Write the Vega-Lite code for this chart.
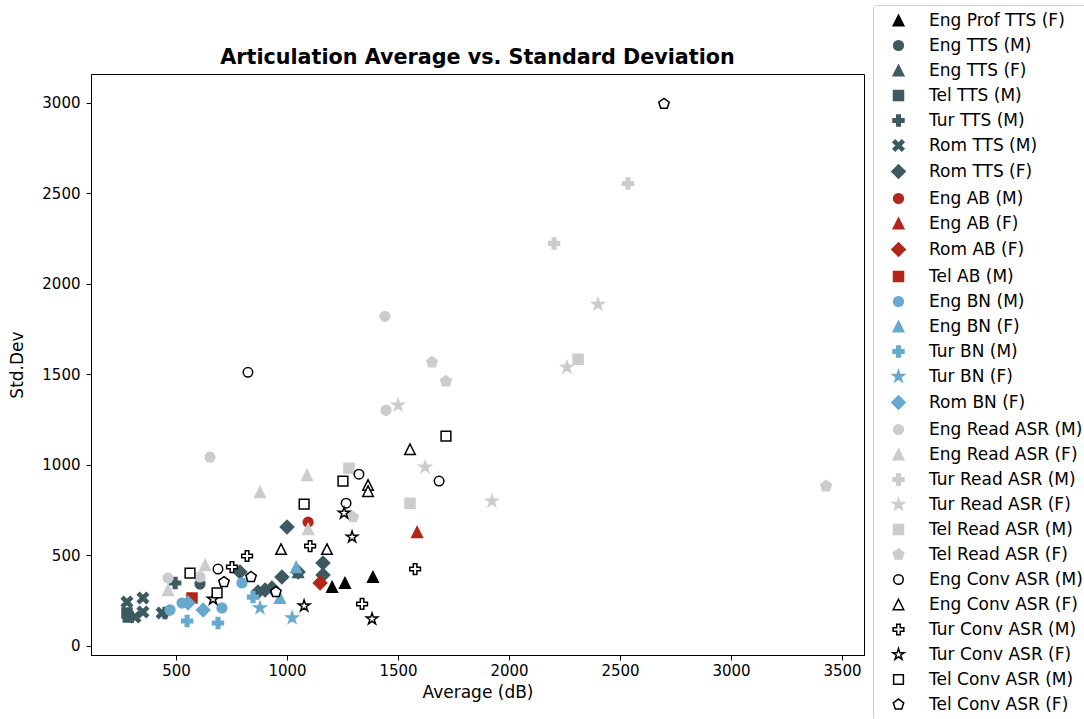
{
  "$schema": "https://vega.github.io/schema/vega-lite/v6.json",
  "width": 773,
  "height": 581,
  "autosize": {"type": "none"},
  "padding": {"left": 91, "top": 74, "right": 220, "bottom": 64},
  "background": "white",
  "title": {"text": "Articulation Average vs. Standard Deviation", "font": "DejaVu Sans", "fontSize": 20.7, "fontWeight": "bold", "color": "black", "anchor": "middle", "frame": "group", "offset": 9, "dy": 73},
  "config": {
    "font": "DejaVu Sans",
    "view": {"stroke": "black", "strokeWidth": 1},
    "axis": {"domainColor": "black", "tickColor": "black", "labelColor": "black", "titleColor": "black", "labelFont": "DejaVu Sans", "titleFont": "DejaVu Sans", "labelFontSize": 15, "titleFontSize": 17, "titleFontWeight": "normal", "grid": false, "tickSize": 5, "domainWidth": 1, "tickWidth": 1, "labelOverlap": false, "format": "d"},
    "legend": {"orient": "none", "legendX": 782, "legendY": -69, "labelFontSize": 17, "labelFont": "DejaVu Sans", "labelColor": "black", "strokeColor": "#cccccc", "fillColor": "white", "cornerRadius": 3, "padding": 7, "rowPadding": 7, "symbolOffset": 10, "labelOffset": 22, "labelLimit": 300, "symbolStrokeWidth": 1.5, "symbolLimit": 40}
  },
  "data": {"values": [
    {"series": "Eng Prof TTS (F)", "avg": 1203, "sd": 326},
    {"series": "Eng Prof TTS (F)", "avg": 1261, "sd": 348},
    {"series": "Eng Prof TTS (F)", "avg": 1387, "sd": 381},
    {"series": "Eng TTS (M)", "avg": 608, "sd": 342},
    {"series": "Eng TTS (F)", "avg": 1050, "sd": 408},
    {"series": "Tel TTS (M)", "avg": 279, "sd": 182},
    {"series": "Tel TTS (M)", "avg": 285, "sd": 160},
    {"series": "Tur TTS (M)", "avg": 496, "sd": 348},
    {"series": "Tur TTS (M)", "avg": 450, "sd": 182},
    {"series": "Rom TTS (M)", "avg": 279, "sd": 243},
    {"series": "Rom TTS (M)", "avg": 351, "sd": 265},
    {"series": "Rom TTS (M)", "avg": 351, "sd": 188},
    {"series": "Rom TTS (M)", "avg": 437, "sd": 182},
    {"series": "Rom TTS (M)", "avg": 315, "sd": 160},
    {"series": "Rom TTS (F)", "avg": 1000, "sd": 657},
    {"series": "Rom TTS (F)", "avg": 1162, "sd": 458},
    {"series": "Rom TTS (F)", "avg": 1050, "sd": 408},
    {"series": "Rom TTS (F)", "avg": 977, "sd": 381},
    {"series": "Rom TTS (F)", "avg": 1162, "sd": 392},
    {"series": "Rom TTS (F)", "avg": 901, "sd": 309},
    {"series": "Rom TTS (F)", "avg": 932, "sd": 320},
    {"series": "Rom TTS (F)", "avg": 869, "sd": 298},
    {"series": "Rom TTS (F)", "avg": 788, "sd": 408},
    {"series": "Eng AB (M)", "avg": 1095, "sd": 684},
    {"series": "Eng AB (F)", "avg": 1586, "sd": 629},
    {"series": "Rom AB (F)", "avg": 1149, "sd": 348},
    {"series": "Tel AB (M)", "avg": 572, "sd": 265},
    {"series": "Eng BN (M)", "avg": 473, "sd": 199},
    {"series": "Eng BN (M)", "avg": 527, "sd": 237},
    {"series": "Eng BN (M)", "avg": 707, "sd": 210},
    {"series": "Eng BN (M)", "avg": 797, "sd": 348},
    {"series": "Eng BN (F)", "avg": 968, "sd": 265},
    {"series": "Eng BN (F)", "avg": 1041, "sd": 436},
    {"series": "Tur BN (M)", "avg": 550, "sd": 138},
    {"series": "Tur BN (M)", "avg": 689, "sd": 127},
    {"series": "Tur BN (M)", "avg": 847, "sd": 270},
    {"series": "Tur BN (F)", "avg": 878, "sd": 210},
    {"series": "Tur BN (F)", "avg": 1023, "sd": 155},
    {"series": "Rom BN (F)", "avg": 622, "sd": 199},
    {"series": "Rom BN (F)", "avg": 554, "sd": 237},
    {"series": "Eng Read ASR (M)", "avg": 1441, "sd": 1821},
    {"series": "Eng Read ASR (M)", "avg": 1446, "sd": 1302},
    {"series": "Eng Read ASR (M)", "avg": 653, "sd": 1043},
    {"series": "Eng Read ASR (M)", "avg": 464, "sd": 375},
    {"series": "Eng Read ASR (M)", "avg": 608, "sd": 381},
    {"series": "Eng Read ASR (F)", "avg": 878, "sd": 850},
    {"series": "Eng Read ASR (F)", "avg": 1090, "sd": 944},
    {"series": "Eng Read ASR (F)", "avg": 631, "sd": 447},
    {"series": "Eng Read ASR (F)", "avg": 464, "sd": 309},
    {"series": "Eng Read ASR (F)", "avg": 1095, "sd": 646},
    {"series": "Tur Read ASR (M)", "avg": 2203, "sd": 2224},
    {"series": "Tur Read ASR (M)", "avg": 2536, "sd": 2555},
    {"series": "Tur Read ASR (F)", "avg": 2401, "sd": 1887},
    {"series": "Tur Read ASR (F)", "avg": 2261, "sd": 1540},
    {"series": "Tur Read ASR (F)", "avg": 1500, "sd": 1330},
    {"series": "Tur Read ASR (F)", "avg": 1622, "sd": 988},
    {"series": "Tur Read ASR (F)", "avg": 1923, "sd": 800},
    {"series": "Tel Read ASR (M)", "avg": 2311, "sd": 1584},
    {"series": "Tel Read ASR (M)", "avg": 1279, "sd": 982},
    {"series": "Tel Read ASR (M)", "avg": 1554, "sd": 789},
    {"series": "Tel Read ASR (F)", "avg": 1653, "sd": 1567},
    {"series": "Tel Read ASR (F)", "avg": 1716, "sd": 1462},
    {"series": "Tel Read ASR (F)", "avg": 1297, "sd": 712},
    {"series": "Tel Read ASR (F)", "avg": 3428, "sd": 883},
    {"series": "Eng Conv ASR (M)", "avg": 824, "sd": 1512},
    {"series": "Eng Conv ASR (M)", "avg": 1324, "sd": 949},
    {"series": "Eng Conv ASR (M)", "avg": 1266, "sd": 789},
    {"series": "Eng Conv ASR (M)", "avg": 1685, "sd": 911},
    {"series": "Eng Conv ASR (M)", "avg": 689, "sd": 425},
    {"series": "Eng Conv ASR (F)", "avg": 1554, "sd": 1087},
    {"series": "Eng Conv ASR (F)", "avg": 1365, "sd": 889},
    {"series": "Eng Conv ASR (F)", "avg": 1365, "sd": 855},
    {"series": "Eng Conv ASR (F)", "avg": 973, "sd": 535},
    {"series": "Eng Conv ASR (F)", "avg": 1180, "sd": 535},
    {"series": "Tur Conv ASR (M)", "avg": 1104, "sd": 552},
    {"series": "Tur Conv ASR (M)", "avg": 1577, "sd": 425},
    {"series": "Tur Conv ASR (M)", "avg": 1338, "sd": 232},
    {"series": "Tur Conv ASR (M)", "avg": 820, "sd": 497},
    {"series": "Tur Conv ASR (M)", "avg": 752, "sd": 436},
    {"series": "Tur Conv ASR (F)", "avg": 1257, "sd": 734},
    {"series": "Tur Conv ASR (F)", "avg": 1293, "sd": 602},
    {"series": "Tur Conv ASR (F)", "avg": 1077, "sd": 221},
    {"series": "Tur Conv ASR (F)", "avg": 1383, "sd": 149},
    {"series": "Tur Conv ASR (F)", "avg": 667, "sd": 259},
    {"series": "Tel Conv ASR (M)", "avg": 563, "sd": 403},
    {"series": "Tel Conv ASR (M)", "avg": 685, "sd": 293},
    {"series": "Tel Conv ASR (M)", "avg": 1077, "sd": 784},
    {"series": "Tel Conv ASR (M)", "avg": 1252, "sd": 911},
    {"series": "Tel Conv ASR (M)", "avg": 1716, "sd": 1159},
    {"series": "Tel Conv ASR (F)", "avg": 2698, "sd": 2995},
    {"series": "Tel Conv ASR (F)", "avg": 950, "sd": 298},
    {"series": "Tel Conv ASR (F)", "avg": 838, "sd": 381},
    {"series": "Tel Conv ASR (F)", "avg": 716, "sd": 353}
  ]},
  "mark": {"type": "point", "filled": true, "strokeWidth": 1.5, "opacity": 1},
  "encoding": {
    "x": {"field": "avg", "type": "quantitative", "scale": {"domain": [117, 3599], "nice": false, "zero": false}, "axis": {"title": "Average (dB)", "values": [500, 1000, 1500, 2000, 2500, 3000, 3500], "labelPadding": 3, "titlePadding": 6}},
    "y": {"field": "sd", "type": "quantitative", "scale": {"domain": [-50, 3160], "nice": false, "zero": false}, "axis": {"title": "Std.Dev", "values": [0, 500, 1000, 1500, 2000, 2500, 3000], "labelPadding": 6, "titlePadding": 15}},
    "shape": {"field": "series", "type": "nominal", "title": null, "scale": {
      "domain": ["Eng Prof TTS (F)", "Eng TTS (M)", "Eng TTS (F)", "Tel TTS (M)", "Tur TTS (M)", "Rom TTS (M)", "Rom TTS (F)", "Eng AB (M)", "Eng AB (F)", "Rom AB (F)", "Tel AB (M)", "Eng BN (M)", "Eng BN (F)", "Tur BN (M)", "Tur BN (F)", "Rom BN (F)", "Eng Read ASR (M)", "Eng Read ASR (F)", "Tur Read ASR (M)", "Tur Read ASR (F)", "Tel Read ASR (M)", "Tel Read ASR (F)", "Eng Conv ASR (M)", "Eng Conv ASR (F)", "Tur Conv ASR (M)", "Tur Conv ASR (F)", "Tel Conv ASR (M)", "Tel Conv ASR (F)"],
      "range": [
        "M0,-1L1,1L-1,1Z", "circle", "M0,-1L1,1L-1,1Z", "square",
        "M-0.33,-1L0.33,-1L0.33,-0.33L1,-0.33L1,0.33L0.33,0.33L0.33,1L-0.33,1L-0.33,0.33L-1,0.33L-1,-0.33L-0.33,-0.33Z",
        "M-1,-0.6L-0.6,-1L0,-0.4L0.6,-1L1,-0.6L0.4,0L1,0.6L0.6,1L0,0.4L-0.6,1L-1,0.6L-0.4,0Z",
        "diamond",
        "circle", "M0,-1L1,1L-1,1Z", "diamond", "square",
        "circle", "M0,-1L1,1L-1,1Z",
        "M-0.33,-1L0.33,-1L0.33,-0.33L1,-0.33L1,0.33L0.33,0.33L0.33,1L-0.33,1L-0.33,0.33L-1,0.33L-1,-0.33L-0.33,-0.33Z",
        "M0,-1L0.2245,-0.309L0.951,-0.309L0.363,0.118L0.588,0.809L0,0.382L-0.588,0.809L-0.363,0.118L-0.951,-0.309L-0.2245,-0.309Z",
        "diamond",
        "circle", "M0,-1L1,1L-1,1Z",
        "M-0.33,-1L0.33,-1L0.33,-0.33L1,-0.33L1,0.33L0.33,0.33L0.33,1L-0.33,1L-0.33,0.33L-1,0.33L-1,-0.33L-0.33,-0.33Z",
        "M0,-1L0.2245,-0.309L0.951,-0.309L0.363,0.118L0.588,0.809L0,0.382L-0.588,0.809L-0.363,0.118L-0.951,-0.309L-0.2245,-0.309Z",
        "square",
        "M0,-1L0.951,-0.309L0.588,0.809L-0.588,0.809L-0.951,-0.309Z",
        "circle", "M0,-1L1,1L-1,1Z",
        "M-0.33,-1L0.33,-1L0.33,-0.33L1,-0.33L1,0.33L0.33,0.33L0.33,1L-0.33,1L-0.33,0.33L-1,0.33L-1,-0.33L-0.33,-0.33Z",
        "M0,-1L0.2245,-0.309L0.951,-0.309L0.363,0.118L0.588,0.809L0,0.382L-0.588,0.809L-0.363,0.118L-0.951,-0.309L-0.2245,-0.309Z",
        "square",
        "M0,-1L0.951,-0.309L0.588,0.809L-0.588,0.809L-0.951,-0.309Z"
      ]}},
    "fill": {"field": "series", "type": "nominal", "title": null, "scale": {
      "domain": ["Eng Prof TTS (F)", "Eng TTS (M)", "Eng TTS (F)", "Tel TTS (M)", "Tur TTS (M)", "Rom TTS (M)", "Rom TTS (F)", "Eng AB (M)", "Eng AB (F)", "Rom AB (F)", "Tel AB (M)", "Eng BN (M)", "Eng BN (F)", "Tur BN (M)", "Tur BN (F)", "Rom BN (F)", "Eng Read ASR (M)", "Eng Read ASR (F)", "Tur Read ASR (M)", "Tur Read ASR (F)", "Tel Read ASR (M)", "Tel Read ASR (F)", "Eng Conv ASR (M)", "Eng Conv ASR (F)", "Tur Conv ASR (M)", "Tur Conv ASR (F)", "Tel Conv ASR (M)", "Tel Conv ASR (F)"],
      "range": ["#000000", "#3c5a60", "#3c5a60", "#3c5a60", "#3c5a60", "#3c5a60", "#3c5a60", "#b2271a", "#b2271a", "#b2271a", "#b2271a", "#67a9cf", "#67a9cf", "#67a9cf", "#67a9cf", "#67a9cf", "#cccccc", "#cccccc", "#cccccc", "#cccccc", "#cccccc", "#cccccc", "#ffffff", "#ffffff", "#ffffff", "#ffffff", "#ffffff", "#ffffff"]}},
    "stroke": {"field": "series", "type": "nominal", "title": null, "scale": {
      "domain": ["Eng Prof TTS (F)", "Eng TTS (M)", "Eng TTS (F)", "Tel TTS (M)", "Tur TTS (M)", "Rom TTS (M)", "Rom TTS (F)", "Eng AB (M)", "Eng AB (F)", "Rom AB (F)", "Tel AB (M)", "Eng BN (M)", "Eng BN (F)", "Tur BN (M)", "Tur BN (F)", "Rom BN (F)", "Eng Read ASR (M)", "Eng Read ASR (F)", "Tur Read ASR (M)", "Tur Read ASR (F)", "Tel Read ASR (M)", "Tel Read ASR (F)", "Eng Conv ASR (M)", "Eng Conv ASR (F)", "Tur Conv ASR (M)", "Tur Conv ASR (F)", "Tel Conv ASR (M)", "Tel Conv ASR (F)"],
      "range": ["#000000", "#3c5a60", "#3c5a60", "#3c5a60", "#3c5a60", "#3c5a60", "#3c5a60", "#b2271a", "#b2271a", "#b2271a", "#b2271a", "#67a9cf", "#67a9cf", "#67a9cf", "#67a9cf", "#67a9cf", "#cccccc", "#cccccc", "#cccccc", "#cccccc", "#cccccc", "#cccccc", "#000000", "#000000", "#000000", "#000000", "#000000", "#000000"]}},
    "size": {"field": "series", "type": "nominal", "title": null, "scale": {"type": "ordinal",
      "domain": ["Eng Prof TTS (F)", "Eng TTS (M)", "Eng TTS (F)", "Tel TTS (M)", "Tur TTS (M)", "Rom TTS (M)", "Rom TTS (F)", "Eng AB (M)", "Eng AB (F)", "Rom AB (F)", "Tel AB (M)", "Eng BN (M)", "Eng BN (F)", "Tur BN (M)", "Tur BN (F)", "Rom BN (F)", "Eng Read ASR (M)", "Eng Read ASR (F)", "Tur Read ASR (M)", "Tur Read ASR (F)", "Tel Read ASR (M)", "Tel Read ASR (F)", "Eng Conv ASR (M)", "Eng Conv ASR (F)", "Tur Conv ASR (M)", "Tur Conv ASR (F)", "Tel Conv ASR (M)", "Tel Conv ASR (F)"],
      "range": [115, 95, 115, 100, 120, 120, 180, 95, 115, 180, 100, 95, 115, 120, 150, 180, 95, 115, 120, 150, 100, 125, 90, 110, 115, 145, 95, 120]}}
  }
}
